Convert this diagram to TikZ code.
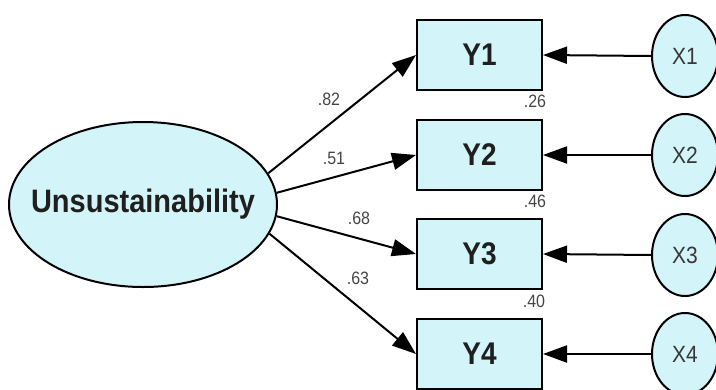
\documentclass[tikz,border=0pt]{standalone}
\usepackage{fontspec}
\setmainfont{Liberation Sans}
\usetikzlibrary{shapes.geometric,arrows.meta}
\definecolor{fillc}{HTML}{D3F5F9}
\definecolor{labc}{HTML}{454545}
\tikzset{
  obs/.style={draw=black, line width=2pt, fill=fillc, minimum width=125pt, minimum height=70pt, inner sep=0pt, font=\bfseries\fontsize{28}{30}\selectfont, text=black!88},
  lat/.style={draw=black, line width=2pt, fill=fillc, ellipse, inner sep=0pt},
  err/.style={lat, minimum width=66pt, minimum height=82pt, font=\fontsize{21}{23}\selectfont, text=black!78},
  coef/.style={font=\fontsize{16}{18}\selectfont, text=labc, inner sep=0pt},
  path/.style={line width=2pt, -{Triangle[length=24pt,width=17pt]}}
}
\begin{document}
\begin{tikzpicture}[x=1pt,y=-1pt]
\useasboundingbox (0,0) rectangle (716,389);
\node[lat, minimum width=268pt, minimum height=165pt] (u) at (143,204.5) {};
\node[font=\bfseries\fontsize{29}{31}\selectfont, text=black!88, inner sep=0pt] (ut) at (u.center) {\scalebox{1}[1.12]{Unsustainability}};
\node[obs] (y1) at (479.5,55) {\scalebox{1}[1.12]{Y1}};
\node[obs] (y2) at (479.5,155) {\scalebox{1}[1.12]{Y2}};
\node[obs] (y3) at (479.5,254) {\scalebox{1}[1.12]{Y3}};
\node[obs] (y4) at (479.5,354) {\scalebox{1}[1.12]{Y4}};
\node[err] (x1) at (685,56) {\scalebox{1}[1.12]{X1}};
\node[err] (x2) at (685,155) {\scalebox{1}[1.12]{X2}};
\node[err] (x3) at (685,255) {\scalebox{1}[1.12]{X3}};
\node[err] (x4) at (685,354) {\scalebox{1}[1.12]{X4}};
\draw[path] (u.14) -- (y1.west);
\draw[path] (u.5) -- (y2.west);
\draw[path] (u.-5) -- (y3.west);
\draw[path] (u.-13.5) -- (y4.west);
\draw[path] (x1.west) -- (y1.east);
\draw[path] (x2.west) -- (y2.east);
\draw[path] (x3.west) -- (y3.east);
\draw[path] (x4.west) -- (y4.east);
\node[coef] (c1) at (329,99) {\scalebox{1}[1.12]{.82}};
\node[coef] (c2) at (334,158) {\scalebox{1}[1.12]{.51}};
\node[coef] (c3) at (359,218) {\scalebox{1}[1.12]{.68}};
\node[coef] (c4) at (358,278) {\scalebox{1}[1.12]{.63}};
\node[coef] (r1) at (535,101) {\scalebox{1}[1.12]{.26}};
\node[coef] (r2) at (535,201) {\scalebox{1}[1.12]{.46}};
\node[coef] (r3) at (534,301) {\scalebox{1}[1.12]{.40}};
\end{tikzpicture}
\end{document}
